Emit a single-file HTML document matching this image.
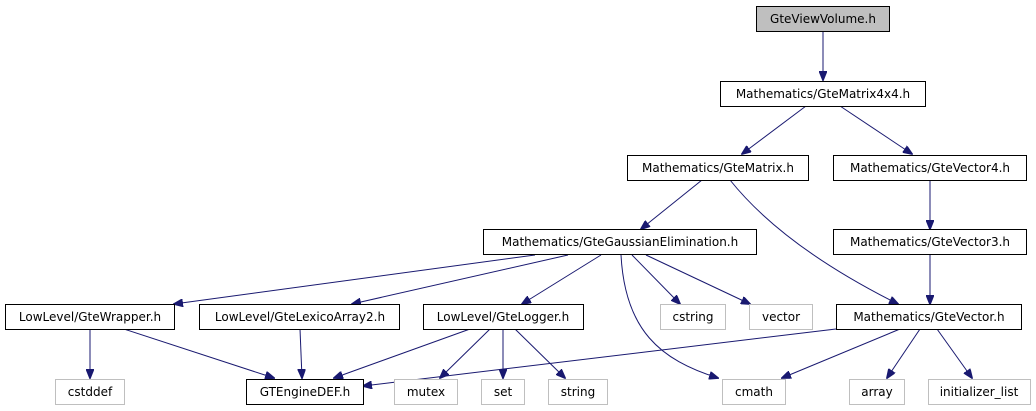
<!DOCTYPE html>
<html><head><meta charset="utf-8"><style>
html,body{margin:0;padding:0;background:#fff;}
svg{display:block;}
text{font-family:"DejaVu Sans","Liberation Sans",sans-serif;font-size:12px;fill:#000;text-anchor:middle;}
.b{fill:#fff;stroke:#000;stroke-width:1;}
.g{fill:#fff;stroke:#bfbfbf;stroke-width:1;}
.e{fill:none;stroke:#191970;stroke-width:1;}
</style></head><body>
<svg width="1036" height="411" viewBox="0 0 1036 411" xmlns="http://www.w3.org/2000/svg">
<defs><marker id="a" markerWidth="10" markerHeight="8" refX="9" refY="4" orient="auto" markerUnits="userSpaceOnUse"><path d="M0,0 L10,4 L0,8 z" fill="#191970" stroke="#191970"/></marker></defs>
<!-- edges -->
<path class="e" marker-end="url(#a)" d="M823,31 L823,80"/>
<path class="e" marker-end="url(#a)" d="M806,106 L742,154"/>
<path class="e" marker-end="url(#a)" d="M840,106 L912,154"/>
<path class="e" marker-end="url(#a)" d="M702,180 L641,229"/>
<path class="e" marker-end="url(#a)" d="M730,180 C770,230 830,270 898,304"/>
<path class="e" marker-end="url(#a)" d="M930,180 L930,229"/>
<path class="e" marker-end="url(#a)" d="M930,255 L930,304"/>
<path class="e" marker-end="url(#a)" d="M535,255 L174,304"/>
<path class="e" marker-end="url(#a)" d="M568,255 L352,304"/>
<path class="e" marker-end="url(#a)" d="M601,255 L522,304"/>
<path class="e" marker-end="url(#a)" d="M621,255 C625,330 660,360 718,378"/>
<path class="e" marker-end="url(#a)" d="M632,255 L680,304"/>
<path class="e" marker-end="url(#a)" d="M646,255 L750,304"/>
<path class="e" marker-end="url(#a)" d="M90,329 L90,378"/>
<path class="e" marker-end="url(#a)" d="M124,329 L274,378"/>
<path class="e" marker-end="url(#a)" d="M300,329 L302,378"/>
<path class="e" marker-end="url(#a)" d="M470,329 L334,378"/>
<path class="e" marker-end="url(#a)" d="M490,329 L440,378"/>
<path class="e" marker-end="url(#a)" d="M503,329 L503,378"/>
<path class="e" marker-end="url(#a)" d="M515,329 L565,378"/>
<path class="e" marker-end="url(#a)" d="M836,329 L363,386"/>
<path class="e" marker-end="url(#a)" d="M900,329 L782,378"/>
<path class="e" marker-end="url(#a)" d="M920,329 L887,378"/>
<path class="e" marker-end="url(#a)" d="M937,329 L972,378"/>
<!-- nodes -->
<rect x="756.5" y="6.5" width="133" height="25" fill="#bfbfbf" stroke="#000"/><text x="823" y="23">GteViewVolume.h</text>
<rect class="b" x="720.5" y="81.5" width="205" height="25"/><text x="823" y="98">Mathematics/GteMatrix4x4.h</text>
<rect class="b" x="627.5" y="155.5" width="181" height="25"/><text x="718" y="172">Mathematics/GteMatrix.h</text>
<rect class="b" x="833.5" y="155.5" width="193" height="25"/><text x="930" y="172">Mathematics/GteVector4.h</text>
<rect class="b" x="483.5" y="229.5" width="273" height="25"/><text x="620" y="246">Mathematics/GteGaussianElimination.h</text>
<rect class="b" x="833.5" y="229.5" width="193" height="25"/><text x="930" y="246">Mathematics/GteVector3.h</text>
<rect class="b" x="5.5" y="304.5" width="169" height="25"/><text x="90" y="321">LowLevel/GteWrapper.h</text>
<rect class="b" x="199.5" y="304.5" width="200" height="25"/><text x="300" y="321">LowLevel/GteLexicoArray2.h</text>
<rect class="b" x="423.5" y="304.5" width="160" height="25"/><text x="503" y="321">LowLevel/GteLogger.h</text>
<rect class="g" x="660.5" y="304.5" width="65" height="25"/><text x="693" y="321">cstring</text>
<rect class="g" x="749.5" y="304.5" width="63" height="25"/><text x="781" y="321">vector</text>
<rect class="b" x="836.5" y="304.5" width="185" height="25"/><text x="929" y="321">Mathematics/GteVector.h</text>
<rect class="g" x="55.5" y="379.5" width="69" height="25"/><text x="90" y="396">cstddef</text>
<rect class="b" x="246.5" y="379.5" width="117" height="25"/><text x="305" y="396">GTEngineDEF.h</text>
<rect class="g" x="394.5" y="379.5" width="63" height="25"/><text x="426" y="396">mutex</text>
<rect class="g" x="481.5" y="379.5" width="43" height="25"/><text x="503" y="396">set</text>
<rect class="g" x="548.5" y="379.5" width="59" height="25"/><text x="578" y="396">string</text>
<rect class="g" x="722.5" y="379.5" width="63" height="25"/><text x="754" y="396">cmath</text>
<rect class="g" x="849.5" y="379.5" width="55" height="25"/><text x="877" y="396">array</text>
<rect class="g" x="928.5" y="379.5" width="102" height="25"/><text x="979" y="396">initializer_list</text>
</svg>
</body></html>
